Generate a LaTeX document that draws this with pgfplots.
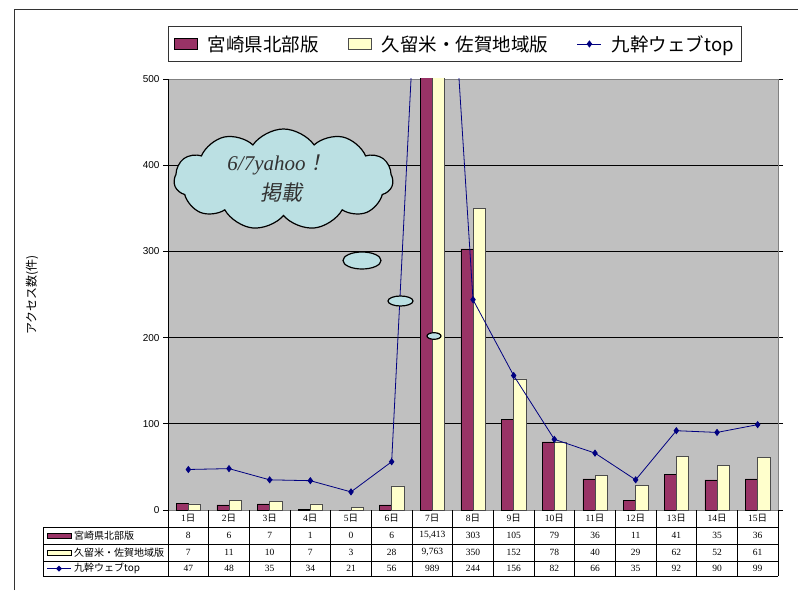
\documentclass[border=0pt]{standalone}
\usepackage{fontspec}
\usepackage{pgfplots}
\pgfplotsset{compat=1.18}
\usetikzlibrary{shapes.symbols}
\setmainfont{Liberation Sans}
\newfontfamily\jp{Noto Sans CJK JP}
\newfontfamily\jpsl[FakeSlant=0.2]{Noto Sans CJK JP}
\newfontfamily\tbl{Liberation Serif}
\definecolor{maroonbar}{RGB}{153,51,102}
\definecolor{creambar}{RGB}{255,255,204}
\definecolor{plotgray}{RGB}{192,192,192}
\definecolor{navyline}{RGB}{0,0,128}
\definecolor{cloudfill}{RGB}{187,224,227}
\pgfplotsset{
  barlegend/.style={legend image code/.code={\draw[##1] (0pt,-5pt) rectangle (23pt,6pt);}},
  linelegend/.style={legend image code/.code={\draw[mark repeat=2,mark phase=2,##1] plot coordinates {(0pt,0pt) (12pt,0pt) (24pt,0pt)};}},
}
\begin{document}
\begin{tikzpicture}[x=1pt,y=1pt]
\useasboundingbox (0,0) rectangle (798,590);
\draw[line width=1pt, black!80] (14,0) -- (14,580) -- (798,580);
\begin{axis}[
  at={(168pt,80pt)}, anchor=south west,
  width=610pt, height=431pt, scale only axis,
  xmin=-0.5, xmax=14.5, ymin=0, ymax=500,
  ytick={0,100,...,500}, xtick=\empty,
  ymajorgrids, grid style={black, line width=0.7pt},
  axis background/.style={fill=plotgray},
  axis line style={draw=gray, line width=0.8pt},
  tick align=outside, major tick length=5pt,
  ytick style={black, line width=0.7pt},
  yticklabel style={font=\fontsize{10}{12}\selectfont},
  /pgf/number format/assume math mode=true,
  clip marker paths=true,
  legend columns=3,
  legend style={at={(0,1)}, anchor=south west, yshift=17pt, draw=black!80, line width=0.7pt,
    font=\jp\fontsize{18.5}{20}\selectfont, inner xsep=6pt, inner ysep=7pt,
    /tikz/every odd column/.append style={column sep=8pt},
    /tikz/every even column/.append style={column sep=27pt}},
]
\addplot[ybar, bar width=0.3, bar shift=-0.15, fill=maroonbar, draw=black, line width=0.6pt, barlegend]
  coordinates {(0,8) (1,6) (2,7) (3,1) (4,0) (5,6) (6,15413) (7,303) (8,105) (9,79) (10,36) (11,11) (12,41) (13,35) (14,36)};
\addlegendentry{宮崎県北部版}
\addplot[ybar, bar width=0.3, bar shift=0.15, fill=creambar, draw=black!70, line width=0.6pt, barlegend]
  coordinates {(0,7) (1,11) (2,10) (3,7) (4,3) (5,28) (6,9763) (7,350) (8,152) (9,78) (10,40) (11,29) (12,62) (13,52) (14,61)};
\addlegendentry{久留米・佐賀地域版}
\addplot[navyline, line width=0.8pt, mark=diamond*, mark size=3pt, mark options={fill=navyline}, linelegend]
  coordinates {(0,47) (1,48) (2,35) (3,34) (4,21) (5,56) (6,989) (7,244) (8,156) (9,82) (10,66) (11,35) (12,92) (13,90) (14,99)};
\addlegendentry{九幹ウェブtop}
\end{axis}
\draw[black, line width=0.8pt] (168,80) -- (168,511);
% data table
\begin{scope}[line width=0.8pt]
\foreach \y in {63,46,29,14} \draw (43,\y) -- (778,\y);
\foreach \k in {0,...,15} \draw ({168+\k*40.667},80) -- ({168+\k*40.667},14);
\draw (43,63) -- (43,14);
\end{scope}
\foreach \i in {1,...,15} \node[font=\fontsize{9.5}{11}\selectfont] at ({168+(\i-0.5)*40.667},71.5) {{\tbl\i}{\jp 日}};
\foreach \v [count=\i from 0] in {8,6,7,1,0,6,{15,413},303,105,79,36,11,41,35,36}
  \node[font=\tbl\fontsize{9.5}{11}\selectfont] at ({168+(\i+0.5)*40.667},54.5) {\v};
\foreach \v [count=\i from 0] in {7,11,10,7,3,28,{9,763},350,152,78,40,29,62,52,61}
  \node[font=\tbl\fontsize{9.5}{11}\selectfont] at ({168+(\i+0.5)*40.667},37.5) {\v};
\foreach \v [count=\i from 0] in {47,48,35,34,21,56,989,244,156,82,66,35,92,90,99}
  \node[font=\tbl\fontsize{9.5}{11}\selectfont] at ({168+(\i+0.5)*40.667},21.5) {\v};
\draw[fill=maroonbar, line width=0.6pt] (47,52) rectangle (71,57);
\node[anchor=west, font=\jp\fontsize{10}{11}\selectfont, inner sep=0pt] at (74,54.5) {宮崎県北部版};
\draw[fill=creambar, line width=0.6pt] (47,35) rectangle (71,40);
\node[anchor=west, font=\jp\fontsize{10}{11}\selectfont, inner sep=0pt] at (74,37.5) {久留米・佐賀地域版};
\draw[navyline, line width=0.8pt] (47,21.5) -- (71,21.5);
\fill[navyline] (59,24.5) -- (62,21.5) -- (59,18.5) -- (56,21.5) -- cycle;
\node[anchor=west, font=\jp\fontsize{10}{11}\selectfont, inner sep=0pt] at (74,21.5) {九幹ウェブtop};
% y label
\node[rotate=90, font=\jp\fontsize{12}{13}\selectfont] at (32,295) {アクセス数(件)};
% callout
\node[cloud, cloud puffs=11, cloud puff arc=110, aspect=2.2, draw=black, line width=1.2pt, fill=cloudfill,
  minimum width=219pt, minimum height=101pt, inner sep=0pt] at (283.5,410.5) {};
\node[font=\fontsize{21}{24}\selectfont, text=black!80] at (277,425) {{\tbl\itshape 6/7yahoo}{\jpsl ！}};
\node[font=\jpsl\fontsize{21}{24}\selectfont, text=black!80] at (281,397) {掲載};
\draw[fill=cloudfill, line width=1.2pt] (362,329.5) ellipse [x radius=19, y radius=8.5];
\draw[fill=cloudfill, line width=1.2pt] (400.5,289) ellipse [x radius=12.5, y radius=5];
\draw[fill=cloudfill, line width=1.2pt] (434,254) ellipse [x radius=7, y radius=3.3];
\end{tikzpicture}
\end{document}
